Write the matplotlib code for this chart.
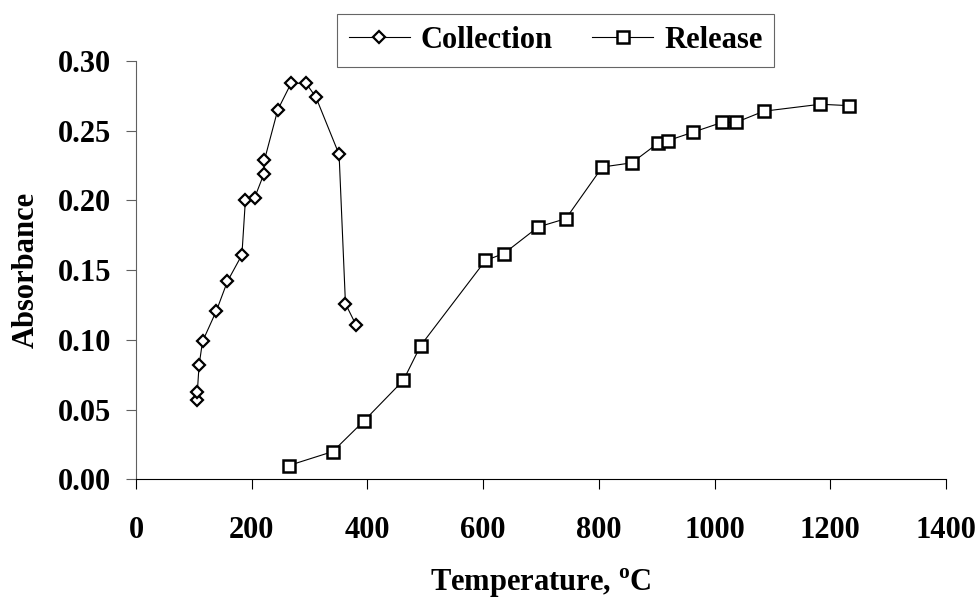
import matplotlib
matplotlib.use("Agg")
import matplotlib.pyplot as plt

# fonts - Times-like bold everywhere
plt.rcParams['font.family'] = ['Liberation Serif', 'DejaVu Serif']
plt.rcParams['font.weight'] = 'bold'
plt.rcParams['mathtext.fontset'] = 'custom'
plt.rcParams['mathtext.rm'] = 'Liberation Serif:bold'
plt.rcParams['mathtext.bf'] = 'Liberation Serif:bold'

#------------------ data ------------------
collection_temp = [105, 106, 109, 115, 139, 158, 183, 189, 205, 221, 222,
                   245, 268, 294, 311, 351, 362, 380]
collection_abs = [0.057, 0.063, 0.082, 0.099, 0.121, 0.142, 0.161, 0.200,
                  0.202, 0.219, 0.229, 0.265, 0.284, 0.284, 0.274, 0.233,
                  0.126, 0.111]

release_temp = [264, 340, 394, 462, 492, 604, 636, 695, 743, 806, 857,
                902, 920, 963, 1013, 1037, 1085, 1183, 1232]
release_abs = [0.010, 0.020, 0.042, 0.071, 0.096, 0.157, 0.162, 0.181,
               0.187, 0.224, 0.227, 0.241, 0.243, 0.249, 0.256, 0.256,
               0.264, 0.269, 0.268]

x_ticks = [0, 200, 400, 600, 800, 1000, 1200, 1400]
y_ticks = [0.00, 0.05, 0.10, 0.15, 0.20, 0.25, 0.30]

fs = 22

fig = plt.figure(figsize=(9.8, 6.01), dpi=100)
ax = fig.add_axes([0.1388, 0.2022, 0.8265, 0.6963])

ax.plot(collection_temp, collection_abs, color='black', lw=0.8,
        marker='D', ms=6.5, mfc='white', mec='black', mew=1.6,
        label='Collection')
ax.plot(release_temp, release_abs, color='black', lw=0.8,
        marker='s', ms=8, mfc='white', mec='black', mew=1.8,
        label='Release')

ax.set_xlim(0, 1400)
ax.set_ylim(0, 0.30)
ax.set_xticks(x_ticks)
ax.set_yticks(y_ticks)
ax.set_yticklabels(["%.2f" % v for v in y_ticks])

# only left and bottom axis lines
ax.spines['top'].set_visible(False)
ax.spines['right'].set_visible(False)
ax.spines['left'].set_color('#606060')
ax.spines['bottom'].set_color('black')
ax.tick_params(axis='both', direction='out', length=7, width=0.8,
               labelsize=fs)
ax.tick_params(axis='x', pad=19, colors='black')
ax.tick_params(axis='y', pad=11, color='#606060', labelcolor='black')

ax.set_xlabel(r'Temperature, $^{\mathrm{o}}$C', fontsize=fs,
              fontweight='bold', labelpad=16)
ax.set_ylabel('Absorbance', fontsize=fs, fontweight='bold', labelpad=12)

leg = fig.legend(loc='upper center', bbox_to_anchor=(0.5668, 0.976),
                 ncol=2, fontsize=fs, frameon=True, fancybox=False,
                 edgecolor='#404040', borderpad=0.38, handlelength=2.0,
                 handletextpad=0.35, columnspacing=1.3, borderaxespad=0)
leg.get_frame().set_linewidth(0.8)

fig.savefig('out.png', dpi=100)
